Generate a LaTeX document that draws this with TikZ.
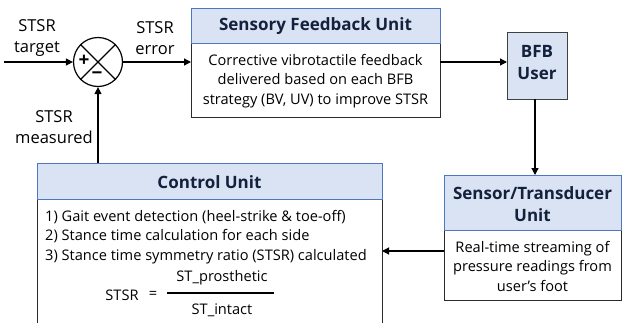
\documentclass[tikz,border=0pt]{standalone}
\usepackage{fontspec}
\setmainfont{Open Sans}
\usetikzlibrary{arrows.meta}
\definecolor{hdrfill}{HTML}{DAE3F3}
\definecolor{hdrdraw}{HTML}{4F76C0}
\definecolor{boxdraw}{HTML}{2B2B2B}
\definecolor{userdraw}{HTML}{404040}
\definecolor{hdrtext}{HTML}{14213D}
\begin{document}
\begin{tikzpicture}[x=1pt,y=-1pt,
  lbl/.style={font=\fontsize{16.5}{21.5}\selectfont, align=center, inner sep=0pt},
  bodytxt/.style={font=\fontsize{14.6}{19.5}\selectfont, align=center, inner sep=0pt},
  hdrtxt/.style={font=\fontsize{17}{22}\selectfont\bfseries, text=hdrtext, align=center, inner sep=0pt},
  hdrbox/.style={fill=hdrfill, draw=hdrdraw, line width=1pt},
  bodybox/.style={fill=white, draw=boxdraw, line width=1pt},
  conn/.style={line width=1.2pt, -{Triangle[length=7pt,width=7pt]}}
]
\useasboundingbox (0,0) rectangle (623,322);
\clip (0,0) rectangle (623,322);

% summing junction
\node[circle, draw, line width=1.2pt, minimum size=49pt, inner sep=0pt] (sum) at (98,62) {};
\draw[line width=1.1pt] (sum.45) -- (sum.225) (sum.135) -- (sum.315);
\node[font=\fontsize{19}{19}\selectfont\bfseries, inner sep=0pt] (plus) at (84,61) {+};
\node[font=\fontsize{19}{19}\selectfont\bfseries, inner sep=0pt] (minus) at (97,76) {\textminus};

% input and labels
\coordinate (in) at (4,62);
\draw[conn] (in) -- (sum.west);
\node[lbl] (tgt) at (37,38) {STSR\\target};
\node[lbl] (err) at (155,38) {STSR\\error};
\node[lbl] (meas) at (54,127) {STSR\\measured};

% Sensory Feedback Unit
\path[hdrbox] (191,8) rectangle (440,43);
\path[bodybox] (191,43) rectangle (440,117);
\draw[hdrdraw, line width=1pt] (191,8) rectangle (440,43);
\node[hdrtxt] (sfuh) at (315.5,26.5) {Sensory Feedback Unit};
\node[bodytxt] (sfub) at (315.5,81) {Corrective vibrotactile feedback\\delivered based on each BFB\\strategy (BV, UV) to improve STSR};
\coordinate (sfuL) at (191,62);
\coordinate (sfuR) at (440,62);
\draw[conn] (sum.east) -- (sfuL);

% BFB User
\path[hdrbox, draw=userdraw] (507,32) rectangle (567,99);
\node[hdrtxt] (user) at (537,63) {BFB\\User};
\coordinate (userL) at (507,62);
\coordinate (userB) at (535,99);
\draw[conn] (sfuR) -- (userL);

% Sensor/Transducer Unit
\path[hdrbox] (444,175) rectangle (621,230);
\path[bodybox] (444,230) rectangle (621,300);
\draw[hdrdraw, line width=1pt] (444,175) rectangle (621,230);
\node[hdrtxt] (senh) at (532.5,204) {Sensor/Transducer\\Unit};
\node[bodytxt] (senb) at (532.5,266) {Real-time streaming of\\pressure readings from\\user’s foot};
\coordinate (senT) at (535,175);
\coordinate (senL) at (444,251);
\draw[conn] (userB) -- (senT);

% Control Unit
\path[hdrbox] (37,163) rectangle (382,199);
\path[bodybox] (37,199) rectangle (382,340);
\draw[hdrdraw, line width=1pt] (37,163) rectangle (382,199);
\node[hdrtxt] (cuh) at (209.5,182) {Control Unit};
\node[bodytxt, align=left, anchor=north west] (cub) at (45,210) {1) Gait event detection (heel-strike \& toe-off)\\2) Stance time calculation for each side\\3) Stance time symmetry ratio (STSR) calculated};
\node[bodytxt] (stsr) at (122,295) {STSR};
\node[bodytxt] (eq) at (153,295) {=};
\node[bodytxt] (num) at (222,278) {ST\_prosthetic};
\node[bodytxt] (den) at (222,310) {ST\_intact};
\draw[line width=1.2pt] (167,293) -- (274,293);
\coordinate (cuR) at (382,251);
\coordinate (cuT) at (98,163);
\draw[conn] (senL) -- (cuR);
\draw[conn] (cuT) -- (sum.south);
\end{tikzpicture}
\end{document}
